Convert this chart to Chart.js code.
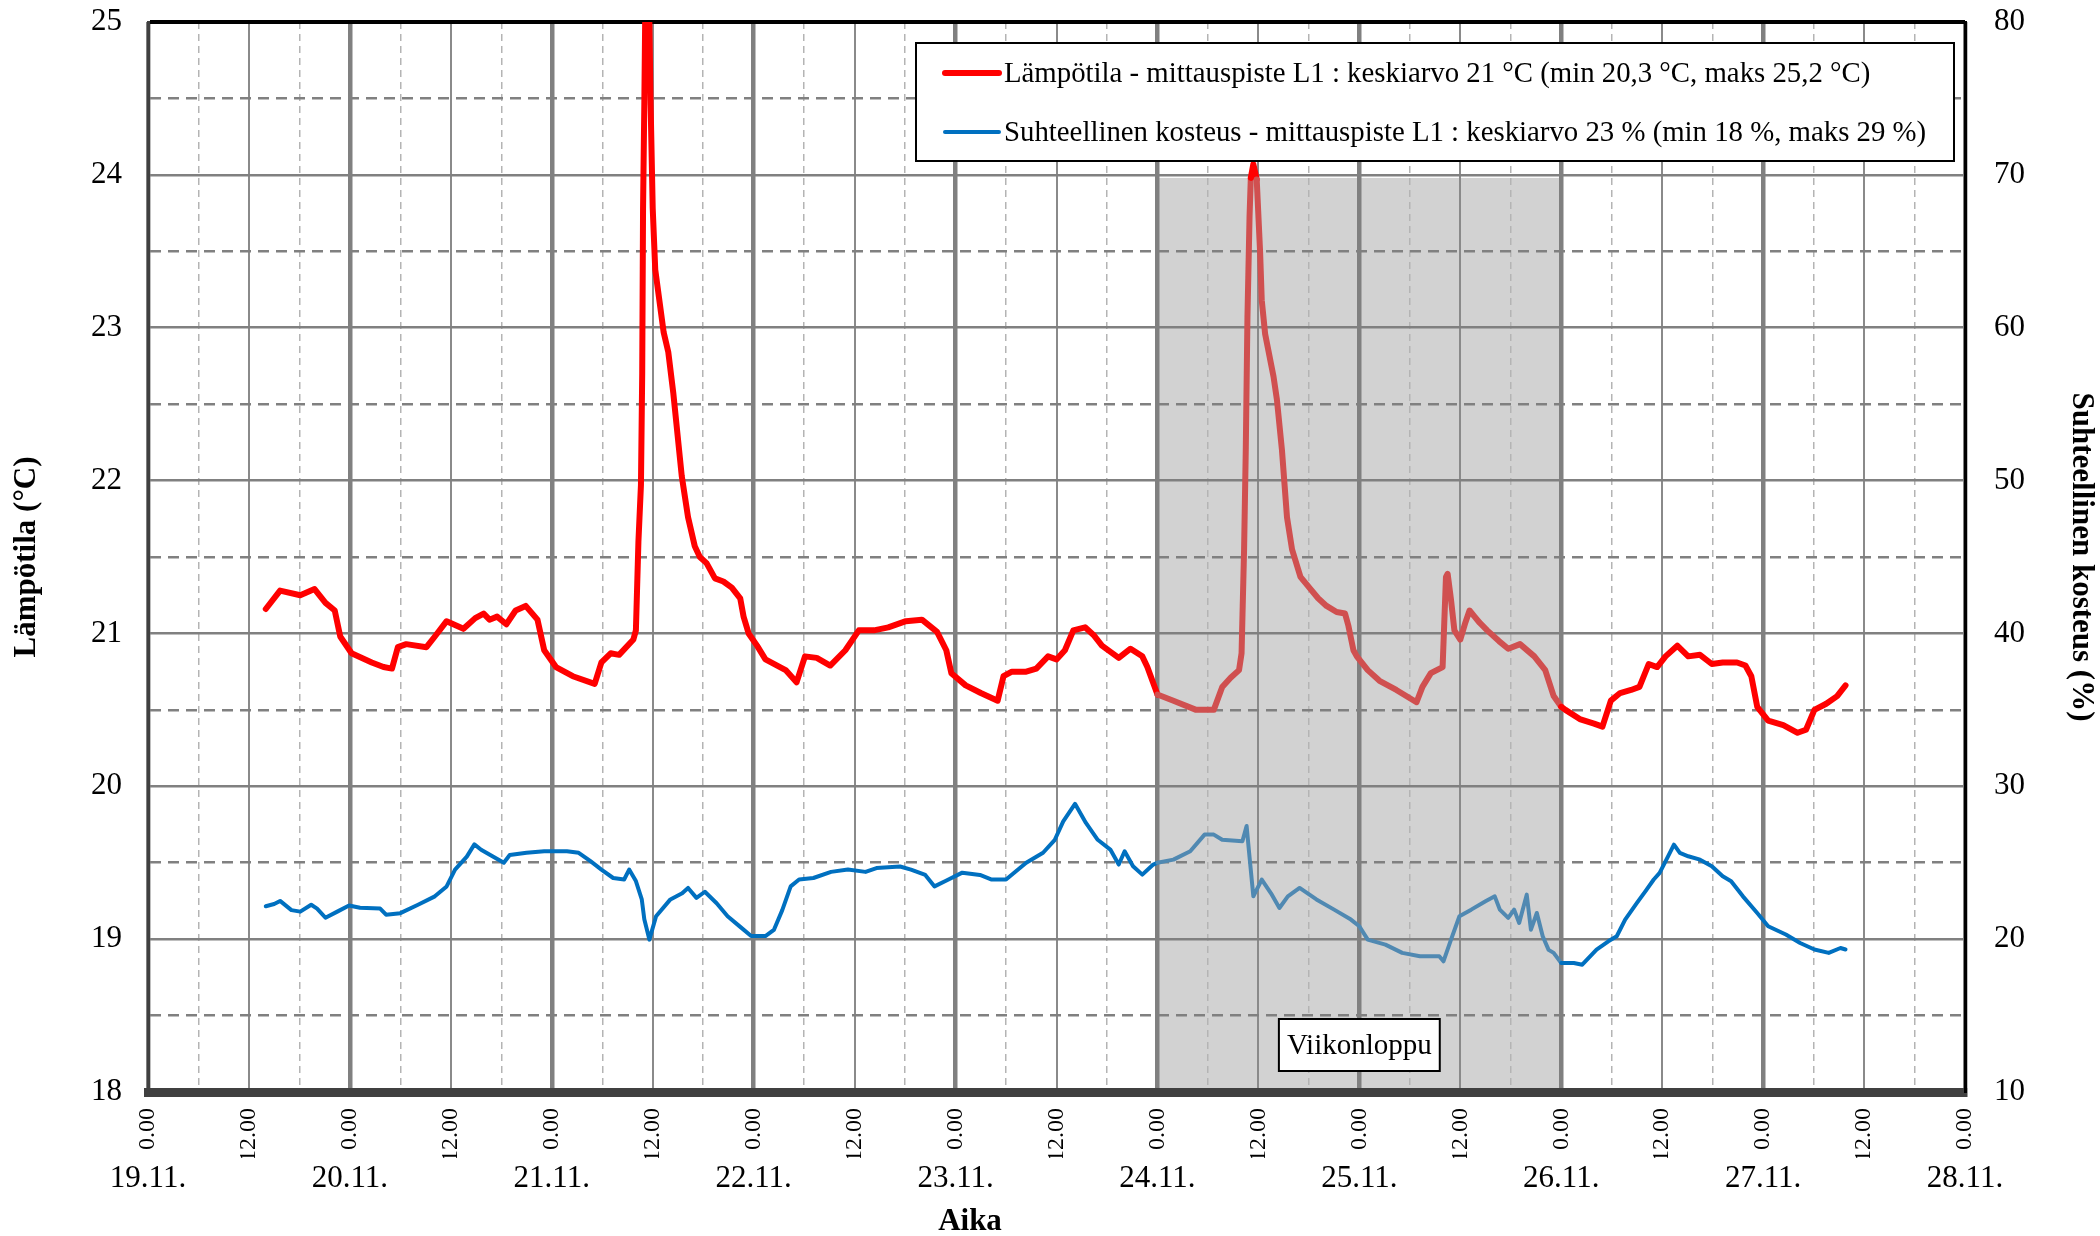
<!DOCTYPE html>
<html>
<head>
<meta charset="utf-8">
<script src="https://cdn.jsdelivr.net/npm/chart.js@4.4.1/dist/chart.umd.min.js"></script>
<style>
  html, body { margin: 0; padding: 0; background: #ffffff; }
  canvas { display: block; }
</style>
</head>
<body>
<canvas id="chart" width="2100" height="1236"></canvas>
<script>
// ---------------- DATA ----------------
// x = hours since 19.11. 0.00
const timeOfDayLabels = ['0.00', '', '12.00', ''];          // label for every 6 h step
const dateLabels = ['19.11.', '20.11.', '21.11.', '22.11.', '23.11.', '24.11.', '25.11.', '26.11.', '27.11.', '28.11.'];

const seriesNames = [
  'Lämpötila - mittauspiste L1 : keskiarvo 21 °C (min 20,3 °C, maks 25,2 °C)',
  'Suhteellinen kosteus - mittauspiste L1 : keskiarvo 23 % (min 18 %, maks 29 %)'
];

const tempHours = [
  14.0, 15.7, 18.1, 19.8, 21.1, 22.2, 22.85, 24.2, 26.6, 28.0, 29.0, 29.7, 30.7, 33.1, 34.1, 35.5, 37.5, 38.9, 39.9, 40.6,
  41.5, 42.6, 43.7, 44.9, 46.3, 47.1, 48.5, 50.5, 53.1, 53.9, 55.0, 56.0, 57.7, 58.0, 58.3, 58.6, 58.75, 58.85, 59.0, 59.1,
  59.35, 59.6, 59.75, 60.0, 60.3, 61.3, 61.85, 62.45, 63.45, 64.2, 65.0, 65.6, 66.4, 67.4, 68.4, 69.4, 70.4, 70.8, 71.4, 72.4,
  73.4, 75.8, 77.1, 78.1, 79.5, 81.1, 82.9, 84.5, 86.3, 88.0, 90.1, 92.0, 93.8, 94.9, 95.5, 97.2, 99.0, 101.0, 101.7, 102.7,
  104.4, 105.6, 107.0, 108.0, 109.0, 110.0, 111.4, 112.4, 113.4, 115.4, 116.8, 118.2, 118.8, 120.0, 121.9, 124.6, 126.7, 127.7, 128.7, 129.7,
  130.0, 130.3, 130.5, 130.7, 130.95, 131.1, 131.4, 131.8, 132.2, 132.4, 132.8, 133.8, 134.2, 134.8, 135.4, 136.0, 137.0, 138.2, 139.1, 140.1,
  141.3, 142.3, 142.7, 143.3, 143.7, 145.0, 146.4, 148.4, 150.8, 151.5, 152.5, 153.9, 154.3, 154.5, 154.9, 155.3, 156.0, 156.6, 157.1, 157.7,
  158.3, 159.2, 160.6, 161.7, 163.1, 164.8, 166.1, 167.1, 168.0, 168.5, 170.2, 171.9, 172.9, 173.9, 175.0, 176.3, 177.3, 178.4, 179.4, 180.4,
  181.8, 183.1, 184.5, 185.9, 187.2, 188.9, 189.9, 190.6, 191.3, 192.6, 194.4, 196.1, 197.1, 198.1, 199.5, 200.8, 201.8
];
const tempValues = [
  21.16, 21.28, 21.25, 21.29, 21.20, 21.15, 20.98, 20.87, 20.81, 20.78, 20.77, 20.91, 20.93, 20.91, 20.98, 21.08, 21.03, 21.10, 21.13, 21.09,
  21.11, 21.06, 21.15, 21.18, 21.09, 20.89, 20.78, 20.72, 20.67, 20.81, 20.87, 20.86, 20.96, 21.02, 21.60, 21.97, 22.70, 23.78, 24.46, 25.00,
  25.20, 25.00, 24.46, 23.78, 23.38, 22.97, 22.84, 22.57, 22.03, 21.76, 21.57, 21.50, 21.46, 21.36, 21.34, 21.30, 21.23, 21.11, 21.00, 20.92,
  20.83, 20.76, 20.68, 20.85, 20.84, 20.79, 20.89, 21.02, 21.02, 21.04, 21.08, 21.09, 21.01, 20.89, 20.74, 20.66, 20.61, 20.56, 20.72, 20.75,
  20.75, 20.77, 20.85, 20.83, 20.89, 21.02, 21.04, 20.99, 20.92, 20.84, 20.90, 20.85, 20.78, 20.60, 20.56, 20.50, 20.50, 20.65, 20.71, 20.76,
  20.87, 21.55, 22.20, 23.07, 23.73, 23.98, 24.07, 23.97, 23.50, 23.18, 22.96, 22.68, 22.53, 22.20, 21.76, 21.55, 21.37, 21.29, 21.23, 21.18,
  21.14, 21.13, 21.05, 20.89, 20.85, 20.76, 20.69, 20.63, 20.55, 20.65, 20.74, 20.78, 21.37, 21.39, 21.22, 21.02, 20.96, 21.07, 21.15, 21.11,
  21.07, 21.02, 20.95, 20.90, 20.93, 20.85, 20.76, 20.59, 20.52, 20.50, 20.44, 20.41, 20.39, 20.56, 20.61, 20.63, 20.65, 20.80, 20.78, 20.85,
  20.92, 20.85, 20.86, 20.80, 20.81, 20.81, 20.79, 20.72, 20.52, 20.43, 20.40, 20.35, 20.37, 20.50, 20.54, 20.59, 20.66
];

const rhHours = [
  14.0, 15.0, 15.7, 17.05, 18.1, 19.4, 20.1, 21.1, 22.5, 23.9, 25.2, 27.6, 28.3, 30.0, 32.1, 34.1, 35.5, 36.5, 37.9, 38.8,
  39.6, 41.0, 42.3, 43.0, 45.0, 47.1, 49.8, 51.2, 52.6, 53.9, 55.3, 56.6, 57.2, 58.0, 58.7, 59.0, 59.6, 60.4, 62.1, 63.5,
  64.2, 65.2, 66.2, 67.6, 68.9, 70.3, 71.7, 73.4, 74.4, 75.4, 76.4, 77.4, 79.1, 81.2, 83.2, 85.3, 86.6, 89.4, 90.7, 92.4,
  93.5, 94.8, 96.8, 98.9, 100.3, 102.0, 104.4, 106.4, 107.8, 108.8, 110.2, 111.5, 112.9, 114.4, 115.4, 116.1, 117.1, 118.2, 119.5, 120.0,
  121.9, 123.9, 125.6, 126.7, 127.7, 130.1, 130.6, 130.9, 131.4, 132.4, 133.5, 134.5, 135.5, 136.9, 138.9, 141.0, 143.0, 144.0, 145.0, 147.1,
  149.1, 151.2, 153.5, 154.0, 154.9, 155.9, 157.3, 159.0, 160.1, 160.7, 161.7, 162.4, 163.0, 163.9, 164.4, 165.1, 165.8, 166.5, 167.1, 168.0,
  169.5, 170.5, 172.2, 173.6, 174.6, 175.6, 177.0, 178.0, 179.0, 179.7, 180.7, 181.4, 182.1, 183.1, 184.5, 185.9, 187.2, 188.2, 189.6, 191.3,
  192.6, 194.7, 196.4, 198.1, 199.8, 201.2, 201.8
];
const rhValues = [
  22.15, 22.3, 22.5, 21.9, 21.8, 22.25, 22.0, 21.4, 21.8, 22.2, 22.05, 22.0, 21.6, 21.7, 22.25, 22.8, 23.45, 24.55, 25.4, 26.2,
  25.85, 25.4, 25.0, 25.5, 25.65, 25.75, 25.75, 25.65, 25.1, 24.55, 24.0, 23.9, 24.55, 23.8, 22.6, 21.3, 19.97, 21.5, 22.6, 23.0,
  23.35, 22.7, 23.1, 22.35, 21.5, 20.85, 20.2, 20.2, 20.6, 21.9, 23.45, 23.9, 24.0, 24.4, 24.55, 24.4, 24.65, 24.75, 24.55, 24.2,
  23.45, 23.8, 24.35, 24.2, 23.9, 23.9, 25.0, 25.65, 26.5, 27.7, 28.85, 27.6, 26.5, 25.86, 24.88, 25.75, 24.77, 24.22, 24.88, 25.0,
  25.2, 25.75, 26.84, 26.84, 26.5, 26.4, 27.4, 25.64, 22.8, 23.9, 23.0, 22.04, 22.8, 23.35, 22.6, 21.93, 21.28, 20.84, 19.97, 19.64,
  19.1, 18.88, 18.88, 18.55, 19.97, 21.5, 21.93, 22.48, 22.8, 21.93, 21.39, 21.93, 21.06, 22.91, 20.62, 21.71, 20.19, 19.3, 19.1, 18.44,
  18.44, 18.33, 19.32, 19.86, 20.19, 21.28, 22.37, 23.13, 23.9, 24.33, 25.42, 26.18, 25.64, 25.42, 25.2, 24.77, 24.11, 23.79, 22.8, 21.71,
  20.84, 20.3, 19.75, 19.32, 19.1, 19.42, 19.32
];

const weekendRange = [120, 168];     // 24.11. 0.00 – 26.11. 0.00 (hours)
const weekendTopTemp = 23.98;        // top of the shaded weekend area (°C axis)
const weekendLabel = 'Viikonloppu';
const xTitle = 'Aika';
const yTitle = 'Lämpötila (°C)';
const y1Title = 'Suhteellinen kosteus (%)';

// ---------------- STYLE ----------------
const SERIF = '"Liberation Serif", "Times New Roman", serif';
const RED = '#ff0000', RED_MUTED = '#d05050';
const BLUE = '#0070c0', BLUE_MUTED = '#5089b2';

function inWeekend(ctx, yLimit) {
  const a = ctx.p0.parsed, b = ctx.p1.parsed;
  return a.x >= weekendRange[0] && b.x <= weekendRange[1] && a.y <= yLimit && b.y <= yLimit;
}

const decorPlugin = {
  id: 'decor',
  beforeDraw(chart) {
    const { ctx, chartArea, scales } = chart;
    const x0 = scales.x.getPixelForValue(weekendRange[0]);
    const x1 = scales.x.getPixelForValue(weekendRange[1]);
    const yTop = scales.y.getPixelForValue(weekendTopTemp);
    ctx.save();
    ctx.fillStyle = '#d2d2d2';
    ctx.fillRect(x0, yTop, x1 - x0, chartArea.bottom - yTop);
    ctx.restore();
  },
  afterDraw(chart) {
    const { ctx, chartArea, scales } = chart;
    ctx.save();
    // weekend label box
    const cx = scales.x.getPixelForValue((weekendRange[0] + weekendRange[1]) / 2);
    const cy = chartArea.bottom - 47;
    ctx.font = '29px ' + SERIF;
    const tw = ctx.measureText(weekendLabel).width;
    const bw = tw + 16, bh = 52;
    ctx.fillStyle = '#ffffff';
    ctx.fillRect(cx - bw / 2, cy - bh / 2, bw, bh);
    ctx.lineWidth = 2;
    ctx.strokeStyle = '#000000';
    ctx.strokeRect(cx - bw / 2, cy - bh / 2, bw, bh);
    ctx.fillStyle = '#000000';
    ctx.textAlign = 'center';
    ctx.textBaseline = 'middle';
    ctx.fillText(weekendLabel, cx, cy + 1);

    // legend
    const L = { left: 916, top: 43, right: 1954, bottom: 161 };
    ctx.fillStyle = '#ffffff';
    ctx.fillRect(L.left, L.top, L.right - L.left, L.bottom - L.top);
    ctx.lineWidth = 2;
    ctx.strokeStyle = '#000000';
    ctx.strokeRect(L.left, L.top, L.right - L.left, L.bottom - L.top);
    const rows = [73, 132];
    ctx.font = '28.8px ' + SERIF;
    ctx.textAlign = 'left';
    ctx.textBaseline = 'middle';
    chart.data.datasets.forEach((ds, i) => {
      const y = rows[i];
      ctx.beginPath();
      ctx.lineCap = 'round';
      ctx.lineWidth = ds.borderWidth;
      ctx.strokeStyle = ds.borderColor;
      ctx.moveTo(945, y);
      ctx.lineTo(999, y);
      ctx.stroke();
      ctx.fillStyle = '#000000';
      ctx.fillText(ds.label, 1004, y + 1);
    });

    // x axis title
    ctx.font = 'bold 31px ' + SERIF;
    ctx.textAlign = 'center';
    ctx.textBaseline = 'middle';
    ctx.fillText(xTitle, 970, 1222);
    ctx.restore();
  }
};

Chart.defaults.font.family = SERIF;
Chart.defaults.color = '#000000';

new Chart(document.getElementById('chart'), {
  type: 'line',
  data: {
    datasets: [
      {
        label: seriesNames[0],
        data: tempHours.map((h, i) => ({ x: h, y: tempValues[i] })),
        yAxisID: 'y',
        borderColor: RED,
        borderWidth: 6,
        borderJoinStyle: 'round',
        borderCapStyle: 'round',
        pointRadius: 0,
        tension: 0,
        clip: 0,
        segment: { borderColor: c => inWeekend(c, weekendTopTemp) ? RED_MUTED : undefined }
      },
      {
        label: seriesNames[1],
        data: rhHours.map((h, i) => ({ x: h, y: rhValues[i] })),
        yAxisID: 'y1',
        borderColor: BLUE,
        borderWidth: 4,
        borderJoinStyle: 'round',
        borderCapStyle: 'round',
        pointRadius: 0,
        tension: 0,
        clip: 0,
        segment: { borderColor: c => inWeekend(c, 1000) ? BLUE_MUTED : undefined }
      }
    ]
  },
  options: {
    responsive: false,
    animation: false,
    devicePixelRatio: 1,
    layout: { padding: { top: 22, left: 0, right: 0, bottom: 0 } },
    plugins: { legend: { display: false }, tooltip: { enabled: false } },
    scales: {
      x: {
        type: 'linear', position: 'bottom', min: 0, max: 216,
        afterFit: s => { s.height = 66; },
        ticks: {
          stepSize: 6, autoSkip: false, minRotation: 90, maxRotation: 90, padding: 16,
          font: { size: 24 }, color: '#000',
          callback: v => timeOfDayLabels[Math.round(v / 6) % 4]
        },
        grid: {
          drawTicks: false,
          color: c => { const v = c.tick ? c.tick.value : 0; return v % 24 === 0 ? '#808080' : (v % 12 === 0 ? '#8a8a8a' : '#b4b4b4'); },
          lineWidth: c => { const v = c.tick ? c.tick.value : 0; return v % 24 === 0 ? 4.5 : (v % 12 === 0 ? 2 : 1.5); }
        },
        border: {
          color: '#404040', width: 9,
          dash: c => (c.tick && c.tick.value % 12 !== 0) ? [7, 5] : []
        }
      },
      x2: {
        type: 'linear', position: 'bottom', min: 0, max: 216,
        afterFit: s => { s.height = 1236 - 1092 - 66; },
        ticks: {
          stepSize: 24, autoSkip: false, maxRotation: 0, minRotation: 0, padding: 2,
          font: { size: 31 }, color: '#000',
          callback: v => dateLabels[Math.round(v / 24)]
        },
        grid: { display: false, drawTicks: false },
        border: { display: false }
      },
      y: {
        type: 'linear', position: 'left', min: 18, max: 25,
        afterFit: s => { s.width = 148; },
        ticks: {
          stepSize: 0.5, padding: 0, font: { size: 31 }, color: '#000',
          callback: v => Number.isInteger(v) ? String(v) : ''
        },
        grid: {
          drawTicks: true, tickLength: 26, tickColor: 'rgba(0,0,0,0)',
          color: c => (c.tick && c.tick.value === 25) ? '#000000' : '#808080',
          lineWidth: c => (c.tick && c.tick.value === 25) ? 4 : 2.5
        },
        border: {
          color: '#404040', width: 3,
          dash: c => (c.tick && !Number.isInteger(c.tick.value)) ? [11, 7] : []
        },
        title: { display: true, text: yTitle, font: { size: 31, weight: 'bold' }, color: '#000', padding: { top: 8, bottom: 0 } }
      },
      y1: {
        type: 'linear', position: 'right', min: 10, max: 80,
        afterFit: s => { s.width = 135; },
        ticks: { stepSize: 10, padding: 0, font: { size: 31 }, color: '#000' },
        grid: { drawOnChartArea: false, drawTicks: true, tickLength: 29, tickColor: 'rgba(0,0,0,0)' },
        border: { color: '#000000', width: 3 },
        title: { display: true, text: y1Title, font: { size: 31, weight: 'bold' }, color: '#000', padding: { top: 0, bottom: 0 } }
      }
    }
  },
  plugins: [decorPlugin]
});
</script>
</body>
</html>
